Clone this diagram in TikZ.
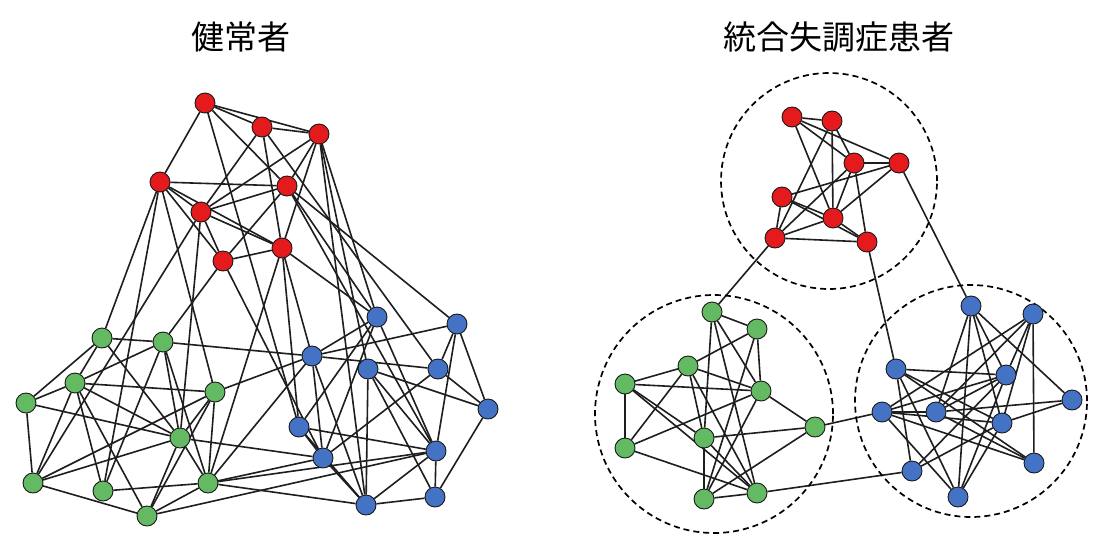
\documentclass[tikz,border=0pt]{standalone}
\usepackage{fontspec}
\newfontfamily\cjk{Noto Sans CJK JP}
\usetikzlibrary{backgrounds}
\definecolor{nred}{RGB}{228,26,28}
\definecolor{ngreen}{RGB}{99,186,99}
\definecolor{nblue}{RGB}{68,114,196}
\definecolor{edgec}{RGB}{30,30,30}
\tikzset{
  vx/.style={circle, draw=black!90, line width=0.9pt, minimum size=20pt, inner sep=0pt},
  rv/.style={vx, fill=nred},
  gv/.style={vx, fill=ngreen},
  bv/.style={vx, fill=nblue},
  ed/.style={draw=edgec, line width=1.6pt},
  grp/.style={draw=black, line width=1.7pt, dash pattern=on 6pt off 4pt},
  ttl/.style={font=\cjk\fontsize{33}{36}\selectfont, inner sep=0pt}
}
\begin{document}
\begin{tikzpicture}[x=1pt,y=-1pt]
\useasboundingbox (0,0) rectangle (1107,555);
% titles
\node[ttl] (t1) at (241,37) {健常者};
\node[ttl] (t2) at (839,37) {統合失調症患者};
% group circles (right)
\node[grp, circle, minimum size=216pt, inner sep=0pt] (cr) at (829,181) {};
\node[grp, circle, minimum size=238pt, inner sep=0pt] (cg) at (714,414) {};
\node[grp, circle, minimum size=232pt, inner sep=0pt] (cb) at (971,401) {};
% left graph nodes
\node[rv] (R1) at (205,103) {};
\node[rv] (R2) at (262,127) {};
\node[rv] (R3) at (319,134) {};
\node[rv] (R4) at (160,182) {};
\node[rv] (R5) at (287,186) {};
\node[rv] (R6) at (201,212) {};
\node[rv] (R7) at (282,248) {};
\node[rv] (R8) at (223,261) {};
\node[gv] (G1) at (102,338) {};
\node[gv] (G2) at (163,342) {};
\node[gv] (G3) at (75,383) {};
\node[gv] (G4) at (26,403) {};
\node[gv] (G5) at (215,392) {};
\node[gv] (G6) at (180,438) {};
\node[gv] (G7) at (33,483) {};
\node[gv] (G8) at (103,491) {};
\node[gv] (G9) at (208,483) {};
\node[gv] (G10) at (147,516) {};
\node[bv] (B1) at (377,317) {};
\node[bv] (B2) at (457,324) {};
\node[bv] (B3) at (312,356) {};
\node[bv] (B4) at (368,369) {};
\node[bv] (B5) at (438,369) {};
\node[bv] (B6) at (488,409) {};
\node[bv] (B7) at (299,427) {};
\node[bv] (B8) at (323,458) {};
\node[bv] (B9) at (436,451) {};
\node[bv] (B10) at (366,505) {};
\node[bv] (B11) at (435,497) {};
% right graph nodes
\node[rv] (r1) at (792,117) {};
\node[rv] (r2) at (832,121) {};
\node[rv] (r3) at (854,163) {};
\node[rv] (r4) at (899,163) {};
\node[rv] (r5) at (782,197) {};
\node[rv] (r6) at (833,218) {};
\node[rv] (r7) at (775,238) {};
\node[rv] (r8) at (867,242) {};
\node[gv] (g1) at (712,312) {};
\node[gv] (g2) at (757,329) {};
\node[gv] (g3) at (688,366) {};
\node[gv] (g4) at (625,384) {};
\node[gv] (g5) at (761,391) {};
\node[gv] (g6) at (704,438) {};
\node[gv] (g7) at (815,427) {};
\node[gv] (g8) at (625,448) {};
\node[gv] (g9) at (704,499) {};
\node[gv] (g10) at (757,493) {};
\node[bv] (b1) at (971,306) {};
\node[bv] (b2) at (1033,314) {};
\node[bv] (b3) at (896,369) {};
\node[bv] (b4) at (1006,375) {};
\node[bv] (b5) at (1072,400) {};
\node[bv] (b6) at (882,412) {};
\node[bv] (b7) at (936,412) {};
\node[bv] (b8) at (1002,423) {};
\node[bv] (b9) at (912,471) {};
\node[bv] (b10) at (1034,463) {};
\node[bv] (b11) at (958,497) {};
\begin{pgfonlayer}{background}
\fill[white] (0,0) rectangle (1107,555);
% left edges
\foreach \a/\b in {R1/R2,R1/R3,R2/R3,R1/R4,R1/R5,R3/R5,R2/R6,R2/R7,R3/R6,R3/R7,R4/R5,R4/R6,R4/R7,R4/R8,R5/R6,R5/R8,R6/R7,R6/R8,R7/R8,
  R1/B7,R2/B5,R3/B1,R3/B4,R3/B10,R4/G1,R4/G5,R4/G8,R5/B1,R5/B2,R5/B9,R6/G6,R6/G7,R7/G9,R7/B1,R7/B3,R7/B7,R8/G2,R8/B8,
  G1/G2,G1/G3,G1/G4,G1/G6,G2/G3,G2/G6,G2/G8,G2/G9,G3/G4,G3/G5,G3/G6,G3/G7,G3/G8,G3/G10,G4/G6,G4/G7,G5/G6,G5/G7,G5/G9,G5/G10,G6/G7,G6/G9,G6/G10,G7/G10,G8/G9,G9/G10,
  G2/B3,G5/B3,G6/B8,G9/B3,G9/B8,G9/B9,G9/B10,G10/B9,
  B1/B3,B1/B7,B1/B8,B1/B9,B2/B3,B2/B5,B2/B6,B2/B9,B3/B5,B3/B8,B3/B10,B4/B6,B4/B9,B4/B10,B4/B11,B5/B6,B5/B8,B6/B11,B7/B8,B7/B9,B7/B10,B8/B10,B9/B10,B9/B11,B10/B11}
  \draw[ed] (\a) -- (\b);
% right edges
\foreach \a/\b in {r1/r2,r1/r3,r1/r4,r1/r6,r2/r3,r2/r6,r2/r7,r3/r4,r3/r6,r3/r7,r3/r8,r4/r5,r4/r6,r5/r6,r5/r7,r5/r8,r6/r7,r6/r8,r7/r8,
  r7/g1,r4/b1,r8/b3,g7/b6,g10/b9,
  g1/g2,g1/g5,g1/g6,g1/g10,g2/g3,g2/g5,g2/g9,g3/g4,g3/g5,g3/g6,g3/g8,g3/g10,g4/g5,g4/g6,g4/g8,g4/g10,g5/g7,g5/g8,g5/g9,g6/g7,g6/g9,g6/g10,g7/g9,g8/g10,g9/g10,
  b1/b4,b1/b5,b1/b7,b1/b8,b1/b11,b2/b4,b2/b6,b2/b7,b2/b8,b2/b10,b3/b4,b3/b8,b3/b9,b3/b10,b3/b11,b4/b6,b4/b7,b4/b9,b4/b11,b5/b7,b5/b8,b6/b7,b6/b8,b6/b10,b6/b11,b7/b10,b8/b9,b8/b11}
  \draw[ed] (\a) -- (\b);
\end{pgfonlayer}
\end{tikzpicture}
\end{document}
